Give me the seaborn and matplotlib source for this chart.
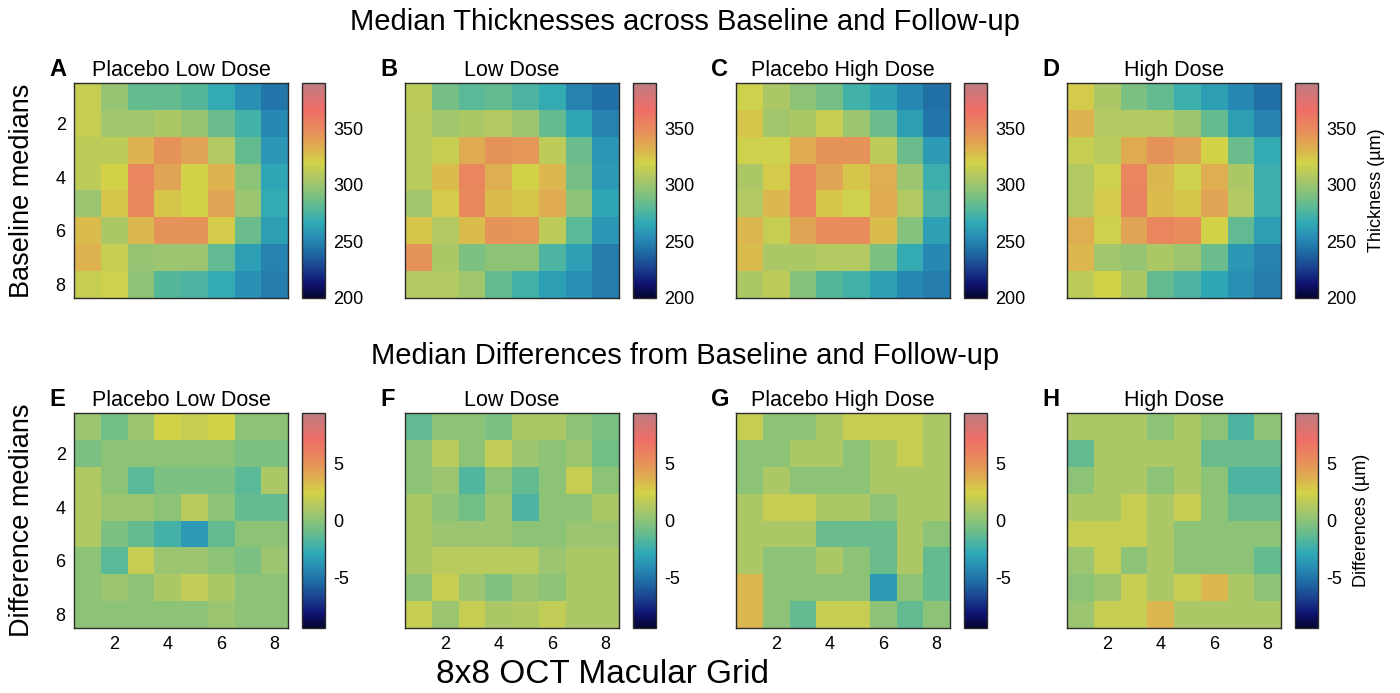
import numpy as np
import matplotlib
matplotlib.use("Agg")
import matplotlib.pyplot as plt
import seaborn as sns
from matplotlib.colors import LinearSegmentedColormap

sns.set_theme(style="white")
plt.rcParams['font.family'] = ['Liberation Sans', 'DejaVu Sans']
plt.rcParams['text.color'] = 'black'
plt.rcParams['axes.labelcolor'] = 'black'
plt.rcParams['xtick.color'] = 'black'
plt.rcParams['ytick.color'] = 'black'

# ---------------- data ----------------
grid_ticks = [2, 4, 6, 8]
panel_titles = ["Placebo Low Dose", "Low Dose", "Placebo High Dose", "High Dose"]
top_letters = ["A", "B", "C", "D"]
bottom_letters = ["E", "F", "G", "H"]

thick_placebo_low = [
    [315, 298, 283, 283, 278, 268, 255, 245],
    [315, 302, 302, 305, 298, 285, 272, 252],
    [312, 312, 332, 345, 338, 308, 283, 258],
    [312, 320, 352, 338, 320, 332, 295, 265],
    [300, 325, 350, 325, 320, 338, 300, 268],
    [328, 305, 330, 345, 345, 322, 285, 262],
    [332, 315, 298, 300, 300, 282, 262, 250],
    [315, 318, 295, 278, 275, 268, 255, 248],
]
thick_low = [
    [312, 288, 280, 283, 275, 268, 250, 243],
    [310, 302, 305, 308, 300, 283, 265, 250],
    [310, 315, 335, 345, 343, 312, 285, 258],
    [310, 328, 352, 333, 320, 330, 288, 260],
    [302, 322, 350, 328, 325, 335, 295, 265],
    [325, 308, 328, 345, 343, 312, 280, 258],
    [345, 305, 290, 295, 295, 275, 262, 248],
    [308, 308, 302, 283, 272, 262, 255, 248],
]
thick_placebo_high = [
    [318, 305, 295, 288, 272, 263, 252, 243],
    [325, 302, 305, 315, 300, 285, 262, 245],
    [318, 318, 335, 345, 345, 312, 285, 260],
    [305, 322, 352, 338, 325, 333, 300, 270],
    [308, 330, 352, 325, 318, 335, 308, 275],
    [330, 315, 338, 348, 348, 328, 293, 263],
    [328, 305, 305, 308, 308, 290, 268, 252],
    [305, 312, 293, 278, 272, 263, 252, 248],
]
thick_high = [
    [322, 305, 290, 283, 270, 262, 252, 243],
    [332, 308, 308, 308, 300, 283, 262, 250],
    [315, 310, 335, 345, 338, 320, 285, 268],
    [308, 318, 352, 330, 318, 333, 305, 270],
    [308, 322, 355, 328, 325, 338, 308, 270],
    [333, 318, 338, 352, 348, 320, 282, 262],
    [330, 302, 298, 305, 300, 285, 258, 250],
    [312, 320, 305, 283, 275, 265, 255, 248],
]

diff_placebo_low = [
    [0.5, -0.8, 0.5, 2.5, 2, 2.5, 0, 0],
    [-0.5, 0, 0, 0, 0, 0, -0.5, -0.5],
    [1.2, 0, -1.5, -0.5, -0.5, -0.5, -1.5, 1],
    [1.2, 0.5, 0.5, 0, 1.5, 0, -1.2, -1.2],
    [1.2, -0.5, -1.2, -2.2, -3.5, -1.2, 0, 0],
    [0, -1.5, 2, 0.5, 0.5, 0, -0.5, 0.5],
    [0, 0.5, 0, 1, 1.8, 1, 0, 0],
    [0, 0, 0, 0, 0, 0.5, 0, 0],
]
diff_low = [
    [-1.3, 0, 0, -0.5, 1, 1, 0, -0.5],
    [0, 1.5, 0, 1.8, 0.5, 0, 0.5, -0.8],
    [0, 0.5, -1.8, 0, -1.2, 0, 2, 0],
    [1, 0, -0.8, 0.5, -2, 0, 0, 1],
    [1, 0.5, 0.5, 0.5, 0, 0, 0.5, 0.5],
    [1, 1.5, 1.5, 1.5, 1.5, 0.5, 1, 1],
    [0, 2, 0.5, -0.3, 0.5, 0, 1, 1],
    [2, 0.5, 2, 1, 1.2, 1.8, 1, 1],
]
diff_placebo_high = [
    [2, 0, 0, 1, 2, 2, 2, 1],
    [0, 0, 1, 1, 0, 1, 2, 1],
    [0, 1, 0, 0, 0, 1, 1, 1],
    [1, 2, 2, 1, 1, 0, 1, 1],
    [1, 1, 1, -1, -1, -1, 1, 0],
    [1, 0, 0, 1, 0, -1, 1, -1.2],
    [3.5, 0, 0, 0, 0, -3.5, 0, -1.2],
    [3.5, 0, -1.2, 2, 2, 0, -1.2, 0],
]
diff_high = [
    [1, 1, 1, 0, 1, 0, -2, 0],
    [-1.2, 1, 1, 1, 1, -1, -1, -1],
    [0, 1, 1, 0, 1, 0, -2, -2],
    [1, 1, 2, 1, 2, 0, -1, -1],
    [2, 2, 2, 1, 0, 0, 0, 0],
    [0.5, 2, 0, 1, 0, 0, 0, -1.2],
    [0, 0.5, 2, 1, 2, 3.5, 1, 0],
    [0.5, 2, 2, 3.5, 1, 1, 1, 1],
]

thick_sets = [thick_placebo_low, thick_low, thick_placebo_high, thick_high]
diff_sets = [diff_placebo_low, diff_low, diff_placebo_high, diff_high]
thick_cbar_ticks = [200, 250, 300, 350]
diff_cbar_ticks = [-5, 0, 5]

# ---------------- colormap ----------------
cm_pos = [0.0, 0.07, 0.13, 0.2, 0.28, 0.35, 0.42, 0.5, 0.56, 0.63, 0.7, 0.78, 0.88, 1.0]
cm_rgb = [(5, 5, 50), (15, 20, 115), (25, 60, 140), (30, 100, 160), (40, 140, 180),
          (48, 170, 182), (90, 185, 150), (140, 195, 120), (175, 200, 100),
          (210, 210, 72), (222, 175, 80), (232, 140, 92), (238, 110, 104), (190, 125, 130)]
cmap = LinearSegmentedColormap.from_list(
    "oct", [(p, tuple(c / 255 for c in rgb)) for p, rgb in zip(cm_pos, cm_rgb)])

# ---------------- layout ----------------
W, H = 1400, 693
fig = plt.figure(figsize=(W / 100, H / 100), dpi=100)

ax_lefts = [74, 405, 736, 1067]
cb_lefts = [302, 633, 964, 1295]
ax_w = 214
cb_w = 23
rows_top = [83, 413]
ax_h = 215


def fx(px):
    return px / W


def fy_bottom(top, h):
    return 1 - (top + h) / H


edge = "#2b2b2b"
for r, (sets, letters, vmin, vmax, cticks, clabel) in enumerate([
        (thick_sets, top_letters, 200, 390, thick_cbar_ticks, "Thickness (µm)"),
        (diff_sets, bottom_letters, -9.5, 9.5, diff_cbar_ticks, "Differences (µm)")]):
    top = rows_top[r]
    for c in range(4):
        ax = fig.add_axes([fx(ax_lefts[c]), fy_bottom(top, ax_h), fx(ax_w), ax_h / H])
        cax = fig.add_axes([fx(cb_lefts[c]), fy_bottom(top, ax_h), fx(cb_w), ax_h / H])
        data = np.array(sets[c], dtype=float)
        sns.heatmap(data, ax=ax, cmap=cmap, vmin=vmin, vmax=vmax, cbar_ax=cax,
                    xticklabels=False, yticklabels=False)
        for s in ax.spines.values():
            s.set_visible(True)
            s.set_color(edge)
            s.set_linewidth(1.0)
        pos = [t - 0.5 for t in grid_ticks]
        ax.set_xticks(pos)
        ax.set_yticks(pos)
        ax.tick_params(direction="in", length=4, width=0.8, color=edge,
                       top=True, right=True, bottom=True, left=True,
                       labelsize=13, pad=6)
        if c == 0:
            ax.set_yticklabels([str(t) for t in grid_ticks])
        else:
            ax.set_yticklabels([])
        if r == 1:
            ax.set_xticklabels([str(t) for t in grid_ticks])
        else:
            ax.set_xticklabels([])
        ax.set_title(panel_titles[c], fontsize=15.5, pad=5)
        fig.text(fx(ax_lefts[c] - 25), 1 - (top - 13) / H, letters[c],
                 fontsize=17, fontweight="bold", va="center", ha="left")

        cb = ax.collections[0].colorbar
        cb.outline.set_visible(True)
        cb.outline.set_linewidth(1.0)
        cb.outline.set_edgecolor(edge)
        cb.set_ticks(cticks)
        cb.set_ticklabels([str(t) for t in cticks])
        cax.tick_params(direction="in", length=4, width=0.8, color=edge,
                        labelsize=13, pad=6, right=True)
        if c == 3:
            cb.set_label(clabel, fontsize=13, labelpad=8)

fig.text(685 / W, 1 - 22 / H, "Median Thicknesses across Baseline and Follow-up",
         fontsize=21, ha="center", va="center")
fig.text(685 / W, 1 - 356 / H, "Median Differences from Baseline and Follow-up",
         fontsize=21, ha="center", va="center")
fig.text(602 / W, 1 - 690 / H, "8x8 OCT Macular Grid",
         fontsize=24, ha="center", va="bottom")
fig.text(22 / W, 1 - 191 / H, "Baseline medians", fontsize=19.5,
         rotation=90, ha="center", va="center")
fig.text(22 / W, 1 - 520 / H, "Difference medians", fontsize=19.5,
         rotation=90, ha="center", va="center")

fig.savefig("out.png", dpi=100)
